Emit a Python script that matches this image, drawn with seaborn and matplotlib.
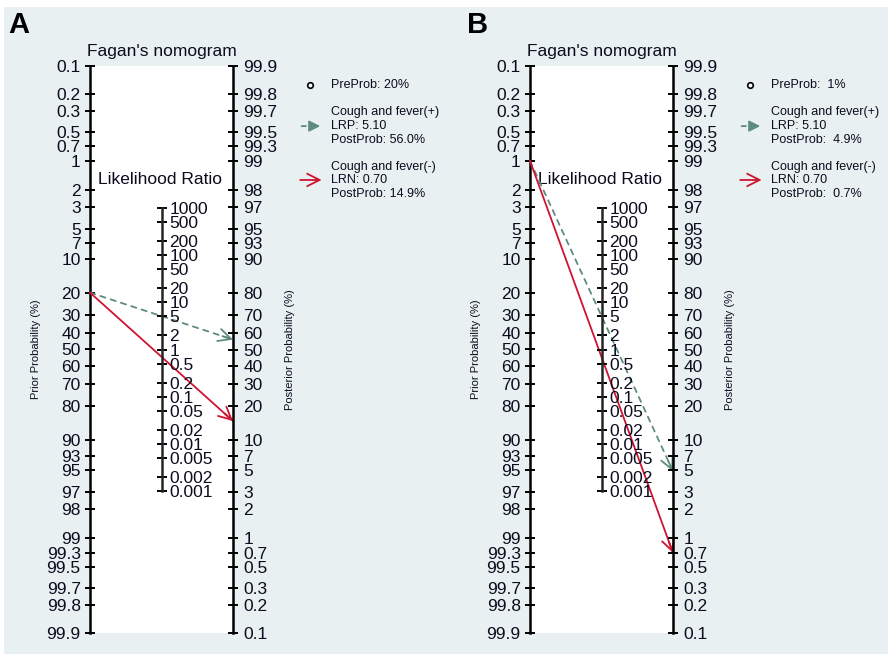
import numpy as np
import seaborn as sns
import matplotlib
matplotlib.use("Agg")
import matplotlib.pyplot as plt
from matplotlib.patches import Rectangle

# data
panel_labels = ["A", "B"]
pre_prob = [20, 1]              # %
lr_pos = [5.10, 5.10]
lr_neg = [0.70, 0.70]
post_pos = [56.0, 4.9]          # %
post_neg = [14.9, 0.7]          # %
test_name = "Cough and fever"

prior_ticks = [0.1, 0.2, 0.3, 0.5, 0.7, 1, 2, 3, 5, 7, 10, 20, 30, 40, 50, 60,
               70, 80, 90, 93, 95, 97, 98, 99, 99.3, 99.5, 99.7, 99.8, 99.9]
post_ticks = prior_ticks[::-1]
lr_ticks = [1000, 500, 200, 100, 50, 20, 10, 5, 2, 1, 0.5, 0.2, 0.1, 0.05,
            0.02, 0.01, 0.005, 0.002, 0.001]

sns.set_theme(style="white")
plt.rcParams["font.family"] = ["Liberation Sans", "DejaVu Sans"]

txt = "#0c0c1e"
green = "#5e8c7c"
red = "#d0142f"
W, H = 888, 654
head = "->,head_length=0.5,head_width=0.25"

fig = plt.figure(figsize=(W / 100, H / 100), dpi=100)
fig.patch.set_facecolor("white")
fig.patches.append(Rectangle((4 / W, 0), 1 - 4 / W, 1 - 7 / H, transform=fig.transFigure,
                             facecolor="#e8f0f2", edgecolor="none", zorder=-10))


def fmt(v):
    return ("%g" % v)


def prob_arrow(ax, axr, pre, post, color, dashed):
    # dashed/solid shaft plus a solid head, ends placed via the axis scales
    start = (0, pre / 100)
    end = (1, post / 100)
    style = (0, (3, 3)) if dashed else "-"
    ax.annotate("", xy=end, xycoords=axr.transData, xytext=start,
                textcoords=ax.transData,
                arrowprops=dict(arrowstyle="-", color=color, lw=1.3,
                                linestyle=style, shrinkA=0, shrinkB=0), zorder=5)
    fig.canvas.draw()
    p0 = ax.transData.transform(start)
    p1 = axr.transData.transform(end)
    length_pt = np.hypot(*(p1 - p0)) * 72 / fig.dpi
    ax.annotate("", xy=end, xycoords=axr.transData, xytext=start,
                textcoords=ax.transData,
                arrowprops=dict(arrowstyle=head, color=color, lw=1.3,
                                shrinkA=max(length_pt - 8, 0), shrinkB=0,
                                mutation_scale=18), zorder=6)


lim = 0.999
for i, lab in enumerate(panel_labels):
    x0 = [90, 530][i]
    ax = fig.add_axes([x0 / W, (H - 633) / H, 143 / W, 567 / H])
    ax.set_facecolor("white")
    ax.set_xlim(0, 1)
    ax.set_xticks([])
    ax.set_yscale("logit")
    ax.set_ylim(lim, 1 - lim)
    ax.set_yticks([t / 100 for t in prior_ticks])
    ax.set_yticklabels([fmt(t) for t in prior_ticks])
    ax.yaxis.set_minor_locator(plt.NullLocator())
    sns.despine(ax=ax, top=True, bottom=True, right=True, left=False)
    ax.spines["left"].set_linewidth(1.8)
    ax.spines["left"].set_color("black")
    ax.tick_params(axis="y", direction="inout", length=7, width=1.4, pad=3.2,
                   labelsize=12.5, labelcolor=txt, color="black", left=True)
    ax.set_ylabel("Prior Probability (%)", fontsize=8, color=txt)
    ax.yaxis.set_label_coords(-0.343, 0.5)

    axr = ax.twinx()
    axr.set_yscale("logit")
    axr.set_ylim(1 - lim, lim)
    axr.set_yticks([t / 100 for t in post_ticks])
    axr.set_yticklabels([fmt(t) for t in post_ticks])
    axr.yaxis.set_minor_locator(plt.NullLocator())
    for s in ["top", "bottom", "left"]:
        axr.spines[s].set_visible(False)
    axr.spines["right"].set_linewidth(1.8)
    axr.spines["right"].set_color("black")
    axr.tick_params(axis="y", direction="inout", length=7, width=1.4, pad=4,
                    labelsize=12.5, labelcolor=txt, color="black", right=True)
    axr.set_ylabel("Posterior Probability (%)", fontsize=8, color=txt, rotation=90)
    axr.yaxis.set_label_coords(1.364, 0.5)

    # likelihood ratio scale in the middle: ln(LR)/2 matches the logit axes
    axm = ax.inset_axes([0.5 - 0.001, 0, 0.001, 1])
    axm.patch.set_alpha(0)
    axm.set_yscale("log")
    lr_lim = (lim / (1 - lim)) ** 2
    axm.set_ylim(1 / lr_lim, lr_lim)
    axm.set_xticks([])
    axm.yaxis.tick_right()
    axm.set_yticks(lr_ticks)
    axm.set_yticklabels([fmt(t) for t in lr_ticks])
    axm.yaxis.set_minor_locator(plt.NullLocator())
    for s in ["top", "bottom", "left"]:
        axm.spines[s].set_visible(False)
    axm.spines["right"].set_bounds(min(lr_ticks), max(lr_ticks))
    axm.spines["right"].set_linewidth(1.8)
    axm.tick_params(axis="y", direction="inout", length=7, width=1.4, pad=2,
                    labelsize=12.5, labelcolor=txt, color="black")

    ax.text(0.5, 1.0176, "Fagan's nomogram", transform=ax.transAxes,
            ha="center", va="baseline", fontsize=12.5, color=txt)
    ax.text(0.49, 0.792, "Likelihood Ratio", transform=ax.transAxes,
            ha="center", va="baseline", fontsize=12.5, color=txt, zorder=1)

    prob_arrow(ax, axr, pre_prob[i], post_pos[i], green, True)
    prob_arrow(ax, axr, pre_prob[i], post_neg[i], red, False)

    # legend block
    lx = 1.685
    ax.plot([1.538], [0.9665], marker="o", ms=4, mfc="white", mec="black",
            mew=1.2, transform=ax.transAxes, clip_on=False)
    pre_txt = "PreProb: %g%%" % pre_prob[i] if pre_prob[i] >= 10 else "PreProb:  %g%%" % pre_prob[i]
    lines = [
        (0.9665, pre_txt),
        (0.919, test_name + "(+)"),
        (0.894, "LRP: %.2f" % lr_pos[i]),
        (0.8695, ("PostProb: %.1f%%" if post_pos[i] >= 10 else "PostProb:  %.1f%%") % post_pos[i]),
        (0.822, test_name + "(-)"),
        (0.799, "LRN: %.2f" % lr_neg[i]),
        (0.774, ("PostProb: %.1f%%" if post_neg[i] >= 10 else "PostProb:  %.1f%%") % post_neg[i]),
    ]
    for yy, s in lines:
        ax.text(lx, yy, s, transform=ax.transAxes, ha="left", va="center",
                fontsize=9, color=txt)
    ax.annotate("", xy=(1.51, 0.894), xycoords="axes fraction",
                xytext=(1.48, 0.894), textcoords="axes fraction",
                arrowprops=dict(arrowstyle="-", color=green, lw=1.3,
                                shrinkA=0, shrinkB=0))
    ax.annotate("", xy=(1.61, 0.894), xycoords="axes fraction",
                xytext=(1.54, 0.894), textcoords="axes fraction",
                arrowprops=dict(arrowstyle="-|>,head_length=0.6,head_width=0.3",
                                color=green, lw=1.3, shrinkA=0, shrinkB=0,
                                mutation_scale=11))
    ax.annotate("", xy=(1.62, 0.799), xycoords="axes fraction",
                xytext=(1.47, 0.799), textcoords="axes fraction",
                arrowprops=dict(arrowstyle=head, color=red, lw=1.3,
                                shrinkA=0, shrinkB=0, mutation_scale=18))

    fig.text([8, 467][i] / W, 1 - 33 / H, lab, fontsize=21, fontweight="bold",
             color="black", va="baseline", ha="left")

fig.savefig("out.png", dpi=100)
